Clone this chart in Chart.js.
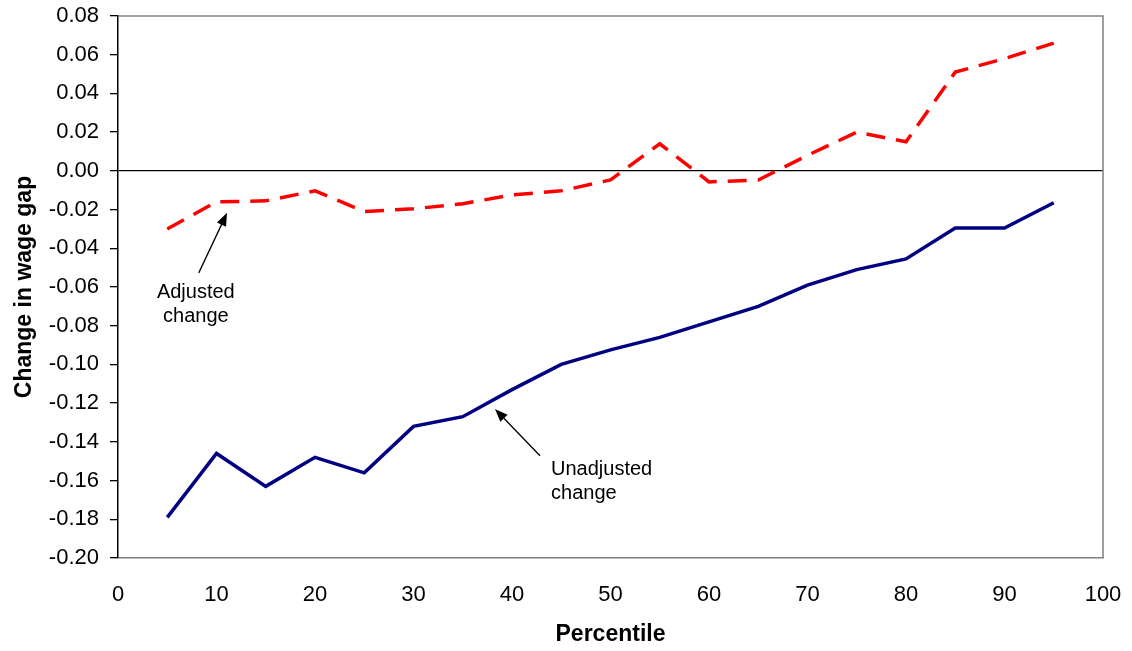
<!DOCTYPE html>
<html>
<head>
<meta charset="utf-8">
<script src="https://cdn.jsdelivr.net/npm/chart.js@4/dist/chart.umd.min.js"></script>
<style>
  html, body { margin: 0; padding: 0; background: #fff; }
  #wrap { width: 1132px; height: 651px; }
</style>
</head>
<body>
<div id="wrap"><canvas id="chart" width="1132" height="651"></canvas></div>
<script>
let percentiles = [5, 10, 15, 20, 25, 30, 35, 40, 45, 50, 55, 60, 65, 70, 75, 80, 85, 90, 95];
let unadjusted = [-0.179, -0.146, -0.163, -0.148, -0.156, -0.132, -0.127, -0.113, -0.100, -0.0925,
                  -0.086, -0.078, -0.070, -0.059, -0.051, -0.0455, -0.0295, -0.0295, -0.0165];
let adjusted = [-0.030, -0.016, -0.0155, -0.0103, -0.021, -0.0196, -0.017, -0.0124, -0.0103, -0.0047,
                0.014, -0.0057, -0.0047, 0.008, 0.020, 0.015, 0.051, 0.058, 0.066];

// annotation text and arrows, in data units
let notes = [
   { lines: ['Adjusted', 'change'], at: [7.9, -0.063], from: [8.2, -0.0527], to: [11.07, -0.0217], align: 'center' },
   { lines: ['Unadjusted', 'change'], at: [43.96, -0.1545], from: [42.84, -0.1472], to: [38.27, -0.123], align: 'left' }
];

let fontFam = '"Liberation Sans", Arial, sans-serif';

let frame = {
   id: 'frame',
   beforeDatasetsDraw(chart) {
      let ctx = chart.ctx, a = chart.chartArea;
      ctx.save();
      ctx.strokeStyle = '#808080';
      ctx.lineWidth = 1.5;
      ctx.beginPath();
      ctx.moveTo(a.left, a.top);
      ctx.lineTo(a.right, a.top);
      ctx.lineTo(a.right, a.bottom);
      ctx.stroke();
      ctx.restore();
   },
   afterDatasetsDraw(chart) {
      let ctx = chart.ctx, xs = chart.scales.x, ys = chart.scales.y;
      ctx.save();
      ctx.fillStyle = '#000';
      ctx.strokeStyle = '#000';
      ctx.font = '20px ' + fontFam;
      ctx.textBaseline = 'middle';
      notes.forEach(n => {
         let tx = xs.getPixelForValue(n.at[0]), ty = ys.getPixelForValue(n.at[1]);
         ctx.textAlign = n.align;
         n.lines.forEach((l, i) => ctx.fillText(l, tx, ty + i * 24));
         let x1 = xs.getPixelForValue(n.from[0]), y1 = ys.getPixelForValue(n.from[1]);
         let x2 = xs.getPixelForValue(n.to[0]), y2 = ys.getPixelForValue(n.to[1]);
         let ang = Math.atan2(y2 - y1, x2 - x1);
         ctx.lineWidth = 1.3;
         ctx.beginPath();
         ctx.moveTo(x1, y1);
         ctx.lineTo(x2 - 8 * Math.cos(ang), y2 - 8 * Math.sin(ang));
         ctx.stroke();
         ctx.beginPath();
         ctx.moveTo(x2, y2);
         ctx.lineTo(x2 - 13 * Math.cos(ang) + 5 * Math.sin(ang), y2 - 13 * Math.sin(ang) - 5 * Math.cos(ang));
         ctx.lineTo(x2 - 13 * Math.cos(ang) - 5 * Math.sin(ang), y2 - 13 * Math.sin(ang) + 5 * Math.cos(ang));
         ctx.closePath();
         ctx.fill();
      });
      ctx.restore();
   }
};

new Chart(document.getElementById('chart'), {
   type: 'line',
   data: {
      datasets: [
         {
            label: 'Unadjusted change',
            data: percentiles.map((p, i) => ({ x: p, y: unadjusted[i] })),
            borderColor: '#000080',
            borderWidth: 3.5,
            pointRadius: 0,
            tension: 0
         },
         {
            label: 'Adjusted change',
            data: percentiles.map((p, i) => ({ x: p, y: adjusted[i] })),
            borderColor: '#ff0000',
            borderWidth: 3.5,
            borderDash: [19, 11],
            pointRadius: 0,
            tension: 0
         }
      ]
   },
   options: {
      responsive: false,
      animation: false,
      layout: { padding: { top: 16, right: 29, left: 0, bottom: 0 } },
      plugins: { legend: { display: false }, tooltip: { enabled: false } },
      scales: {
         x: {
            type: 'linear',
            min: 0, max: 100,
            afterFit: s => { s.height = 93; s.paddingLeft = 0; s.paddingRight = 0; },
            ticks: { stepSize: 10, color: '#000', padding: 24, font: { family: fontFam, size: 22 } },
            grid: { display: false, drawTicks: false },
            border: { color: '#808080', width: 1.5 },
            title: { display: true, text: 'Percentile', color: '#000', padding: { top: 0, bottom: 3 },
                     font: { family: fontFam, size: 23, weight: 'bold' } }
         },
         y: {
            min: -0.2, max: 0.08,
            afterFit: s => { s.width = 118; s.paddingTop = 0; s.paddingBottom = 0; },
            ticks: {
               stepSize: 0.02, color: '#000', padding: 11,
               font: { family: fontFam, size: 22 },
               callback: v => v.toFixed(2)
            },
            grid: {
               color: c => (c.tick && Math.abs(c.tick.value) < 1e-9) ? '#000' : 'rgba(0,0,0,0)',
               lineWidth: 1.3,
               tickColor: '#000',
               tickLength: 8
            },
            border: { color: '#000', width: 1.5 },
            title: { display: true, text: 'Change in wage gap', color: '#000', padding: { top: 11, bottom: 0 },
                     font: { family: fontFam, size: 23, weight: 'bold' } }
         }
      }
   },
   plugins: [frame]
});
</script>
</body>
</html>
